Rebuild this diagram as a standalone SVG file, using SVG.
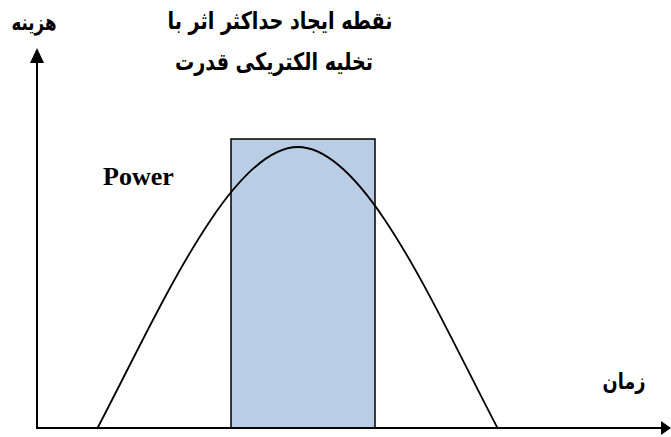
<svg xmlns="http://www.w3.org/2000/svg" width="671" height="437" viewBox="0 0 671 437">
<style>
.fa{font-family:"DejaVu Sans",sans-serif;font-weight:bold;fill:#000;}
.en{font-family:"Liberation Serif",serif;font-weight:bold;fill:#000;}
.ax{stroke:#000;stroke-width:2;fill:none;}
</style>
<rect width="671" height="437" fill="#fff"/>
<g id="window">
<rect x="231" y="139" width="144" height="289" fill="#b9cde5" stroke="#000" stroke-width="1.5"/>
</g>
<g id="curve">
<path d="M97,429 C157,315 230,147 298,147 C366,147 438,315 498,429" fill="none" stroke="#000" stroke-width="1.8"/>
</g>
<g id="connectors">
<line class="ax" x1="37" y1="429" x2="37" y2="60"/>
<polygon points="37,48 30,63 44,63" fill="#000"/>
<line class="ax" x1="36" y1="428" x2="662" y2="428"/>
<polygon points="671,428 661,421 661,435" fill="#000"/>
</g>
<g id="labels">
<text class="fa" x="34" y="30" font-size="22" text-anchor="middle" textLength="45" lengthAdjust="spacingAndGlyphs">هزینه</text>
<text class="fa" x="280" y="29" font-size="24" text-anchor="middle" textLength="225" lengthAdjust="spacingAndGlyphs">نقطه ایجاد حداکثر اثر با</text>
<text class="fa" x="274" y="70" font-size="24" text-anchor="middle" textLength="198" lengthAdjust="spacingAndGlyphs">تخلیه الکتریکی قدرت</text>
<text class="fa" x="624" y="389" font-size="22" text-anchor="middle" textLength="43" lengthAdjust="spacingAndGlyphs">زمان</text>
<text class="en" x="103" y="185" font-size="26">Power</text>
</g>
</svg>
